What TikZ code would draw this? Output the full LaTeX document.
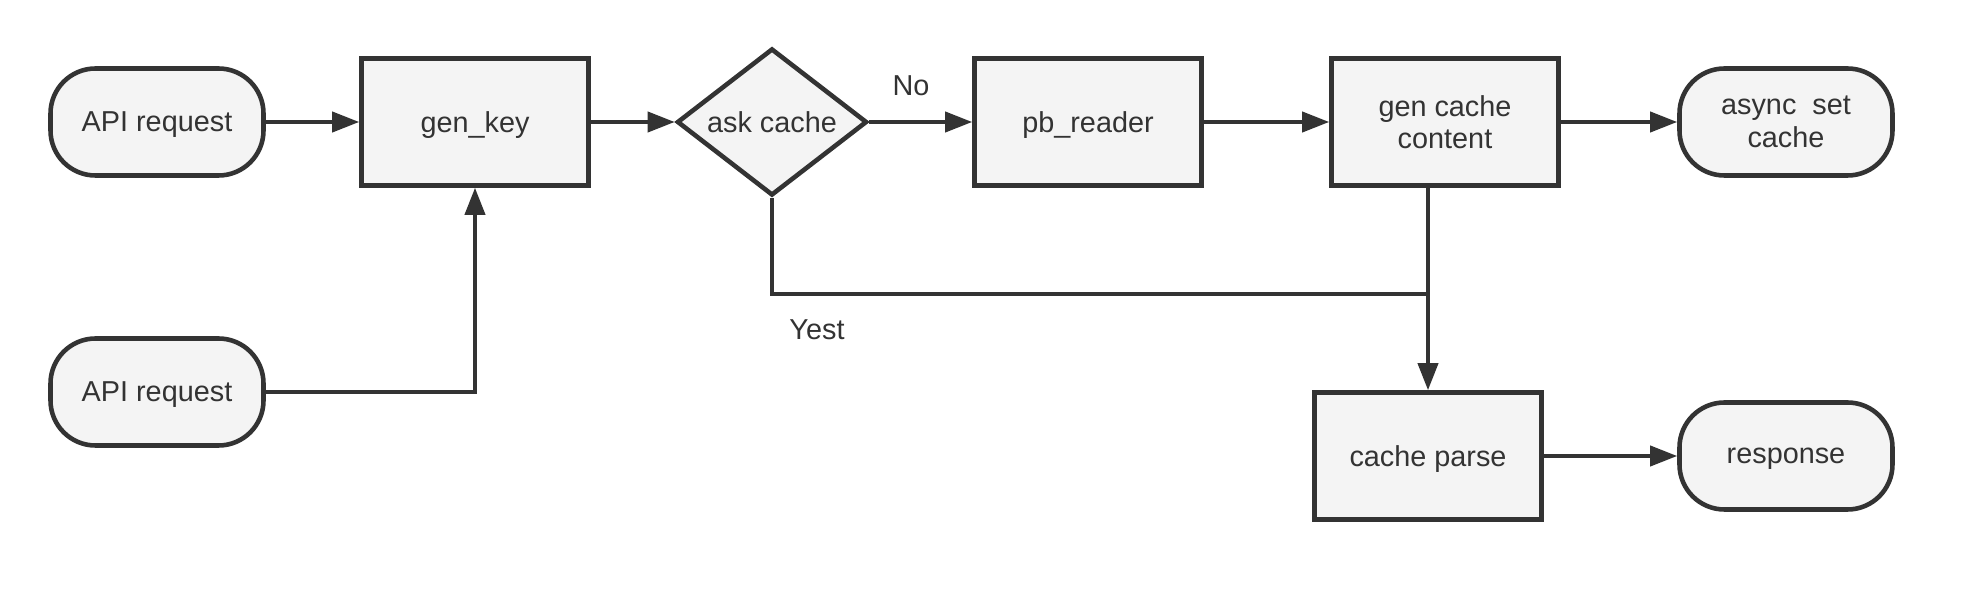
\documentclass[tikz,border=0pt]{standalone}
\usepackage{fontspec}
\setmainfont{Liberation Sans}
\usepackage{xcolor}
\usepackage{tikz}
\usetikzlibrary{positioning,shapes.geometric,arrows.meta}
\definecolor{boxfill}{HTML}{F4F4F4}
\definecolor{boxline}{HTML}{333333}

\begin{document}
\begin{tikzpicture}[
    every node/.style={font=\fontsize{8.2}{9.3}\selectfont, text=boxline},
    process/.style={rectangle, draw=boxline, fill=boxfill, line width=1.3pt, minimum width=2.27cm, minimum height=1.27cm, align=center, text depth=0pt},
    terminal/.style={rectangle, rounded corners=0.45cm, draw=boxline, fill=boxfill, line width=1.3pt, minimum width=2.13cm, minimum height=1.07cm, align=center, text depth=0pt},
    decision/.style={diamond, draw=boxline, fill=boxfill, line width=1.3pt, minimum width=1.9cm, minimum height=1.47cm, inner sep=0pt, aspect=1.3},
    flow/.style={draw=boxline, line width=1.1pt, -{Triangle[length=2.7mm,width=2mm]}},
    plain/.style={draw=boxline, line width=1.1pt},
    edgetext/.style={inner sep=0pt}
]
\useasboundingbox (0,0) rectangle (19.76,6);

% 上排节点
\node[terminal] (api1) at (1.57,4.78) {API request};
\node[process] (genkey) at (4.75,4.78) {gen\_key};
\node[decision] (ask) at (7.72,4.78) {ask cache};
\node[process] (reader) at (10.88,4.78) {pb\_reader};
\node[process] (gencontent) at (14.45,4.78) {gen cache\\content};
\node[terminal] (asyncset) at (17.86,4.78) {async \ set\\cache};

% 下排节点
\node[terminal] (api2) at (1.57,2.08) {API request};
\node[process] (parse) at (14.28,1.44) {cache parse};
\node[terminal] (response) at (17.86,1.44) {response};
\coordinate (join) at (14.28,3.06);

% 连线
\draw[flow] (api1) -- (genkey);
\draw[flow] (genkey) -- (ask);
\draw[flow] (ask) -- (reader);
\draw[flow] (reader) -- (gencontent);
\draw[flow] (gencontent) -- (asyncset);
\draw[flow] (api2) -| (genkey);
\draw[plain] (ask.south) |- (join);
\draw[flow] (gencontent.south -| parse.north) -- (parse.north);
\draw[flow] (parse) -- (response);

% 分支标注
\node[edgetext] (no) at (9.11,5.14) {No};
\node[edgetext] (yes) at (8.17,2.70) {Yest};

\end{tikzpicture}
\end{document}
